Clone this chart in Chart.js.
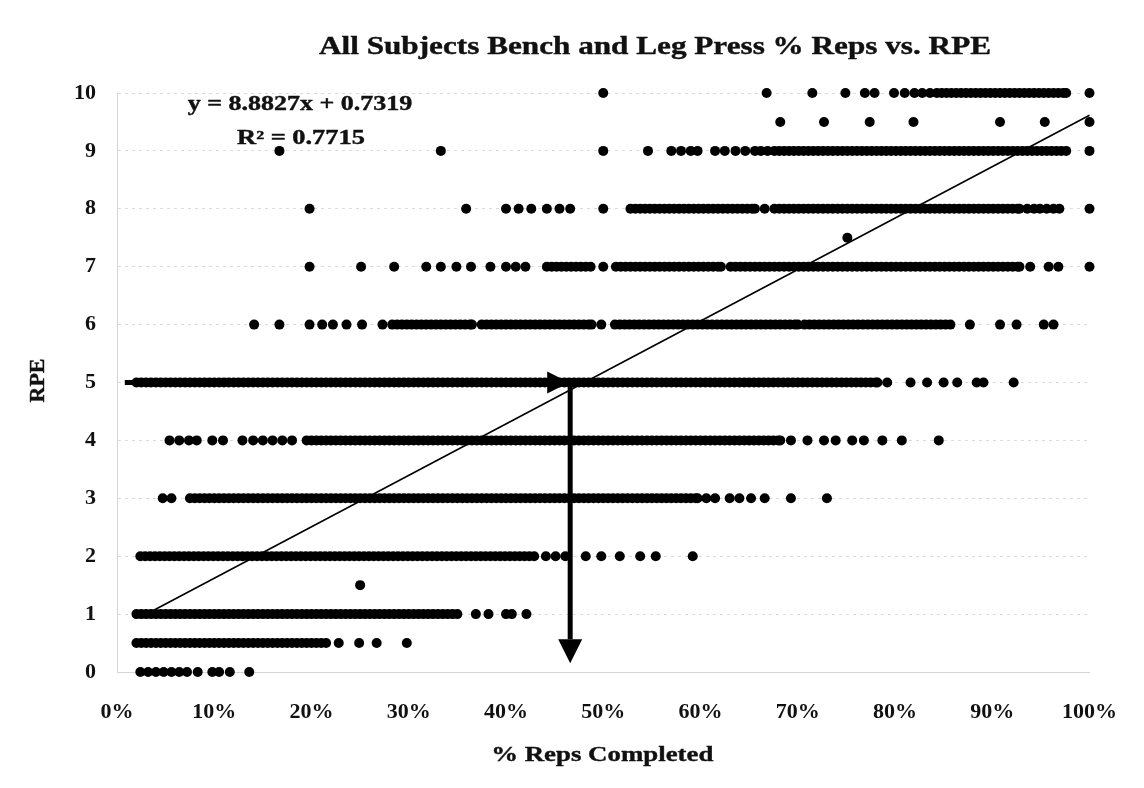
<!DOCTYPE html>
<html>
<head>
<meta charset="utf-8">
<script src="https://cdn.jsdelivr.net/npm/chart.js@4.4.1/dist/chart.umd.min.js"></script>
<style>
  html, body { margin: 0; padding: 0; background: #fff; }
  #chart { display: block; }
</style>
</head>
<body>
<canvas id="chart" width="1144" height="788"></canvas>
<script>
// % reps completed (x) for each RPE level (y)
// (the solid-looking runs are many overlapping points)
const rpe10  = [50.0, 66.8, 71.5, 74.9, 76.9, 77.9, 79.9, 81.0, 82.0, 82.8, 83.6,
  84.3, 84.8, 85.3, 85.8, 86.3, 86.8, 87.3, 87.8, 88.3, 88.8, 89.3, 89.8, 90.3, 90.8, 91.3, 91.8, 92.3, 92.8,
  93.3, 93.8, 94.3, 94.8, 95.3, 95.8, 96.3, 96.8, 97.3, 97.6, 100]
const rpe9_5 = [68.2, 72.7, 77.4, 81.9, 90.8, 95.4, 100]
const rpe9   = [16.7, 33.3, 50.0, 54.6, 57.0, 58.0, 59.0, 59.7, 61.5, 62.5, 63.6, 64.6, 65.6, 66.2, 66.9,
  67.6, 68.1, 68.6, 69.1, 69.6, 70.1, 70.6, 71.1, 71.6, 72.1, 72.6, 73.1, 73.6, 74.1, 74.6, 75.1, 75.6, 76.1,
  76.6, 77.1, 77.6, 78.1, 78.6, 79.1, 79.6, 80.1, 80.6, 81.1, 81.6, 82.1, 82.6, 83.1, 83.6, 84.1, 84.6, 85.1,
  85.6, 86.1, 86.6, 87.1, 87.6, 88.1, 88.6, 89.1, 89.6, 90.1, 90.6, 91.1, 91.6, 92.1, 92.6, 93.1, 93.6, 94.1,
  94.6, 95.1, 95.6, 96.1, 96.6, 97.1, 97.6, 100]
const rpe8   = [19.8, 35.9, 40.0, 41.3, 42.6, 44.2, 45.5, 46.6, 50.0,
  52.8, 53.3, 53.8, 54.3, 54.8, 55.3, 55.8, 56.3, 56.8, 57.3, 57.8, 58.3, 58.8, 59.3, 59.8, 60.3, 60.8, 61.3,
  61.8, 62.3, 62.8, 63.3, 63.8, 64.3, 64.8, 65.3, 65.6, 66.6,
  67.6, 68.1, 68.6, 69.1, 69.6, 70.1, 70.6, 71.1, 71.6, 72.1, 72.6, 73.1, 73.6, 74.1, 74.6, 75.1, 75.6, 76.1,
  76.6, 77.1, 77.6, 78.1, 78.6, 79.1, 79.6, 80.1, 80.6, 81.1, 81.6, 82.1, 82.6, 83.1, 83.6, 84.1, 84.6, 85.1,
  85.6, 86.1, 86.6, 87.1, 87.6, 88.1, 88.6, 89.1, 89.6, 90.1, 90.6, 91.1, 91.6, 92.1, 92.6, 92.8,
  93.6, 94.3, 94.9, 95.6, 96.3, 96.9, 100]
const rpe7_5 = [75.1]
const rpe7   = [19.8, 25.1, 28.5, 31.8, 33.3, 34.9, 36.4, 38.4, 40.0, 41.0, 42.0,
  44.2, 44.7, 45.2, 45.7, 46.2, 46.7, 47.2, 47.7, 48.2, 48.7, 50.0,
  51.3, 51.8, 52.3, 52.8, 53.3, 53.8, 54.3, 54.8, 55.3, 55.8, 56.3, 56.8, 57.3, 57.8, 58.3, 58.8, 59.3, 59.8,
  60.3, 60.8, 61.3, 61.8, 62.1,
  63.1, 63.6, 64.1, 64.6, 65.1, 65.6, 66.1, 66.6, 67.1, 67.6, 68.1, 68.6, 69.1, 69.6, 70.1, 70.6, 71.1, 71.6,
  72.1, 72.6, 73.1, 73.6, 74.1, 74.6, 75.1, 75.6, 76.1, 76.6, 77.1, 77.6, 78.1, 78.6, 79.1, 79.6, 80.1, 80.6,
  81.1, 81.6, 82.1, 82.6, 83.1, 83.6, 84.1, 84.6, 85.1, 85.6, 86.1, 86.6, 87.1, 87.6, 88.1, 88.6, 89.1, 89.6,
  90.1, 90.6, 91.1, 91.6, 92.1, 92.6, 92.8, 93.9, 95.8, 96.8, 100]
const rpe6   = [14.1, 16.7, 19.8, 21.1, 22.2, 23.6, 25.2, 27.3,
  28.3, 28.8, 29.3, 29.8, 30.3, 30.8, 31.3, 31.8, 32.3, 32.8, 33.3, 33.8, 34.3, 34.8, 35.3, 35.8, 36.3, 36.5,
  37.5, 38.0, 38.5, 39.0, 39.5, 40.0, 40.5, 41.0, 41.5, 42.0, 42.5, 43.0, 43.5, 44.0, 44.5, 45.0, 45.5, 46.0,
  46.5, 47.0, 47.5, 48.0, 48.5, 48.8, 49.8,
  51.2, 51.7, 52.2, 52.7, 53.2, 53.7, 54.2, 54.7, 55.2, 55.7, 56.2, 56.7, 57.2, 57.7, 58.2, 58.7, 59.2, 59.7,
  60.2, 60.7, 61.2, 61.7, 62.2, 62.7, 63.2, 63.7, 64.2, 64.7, 65.2, 65.7, 66.2, 66.7, 67.2, 67.7, 68.2, 68.7,
  69.2, 69.7, 70.0, 70.7, 71.2, 71.7, 72.2, 72.7, 73.2, 73.7, 74.2, 74.7, 75.2, 75.7, 76.2, 76.7, 77.2, 77.7,
  78.2, 78.7, 79.2, 79.7, 80.2, 80.7, 81.2, 81.7, 82.2, 82.7, 83.2, 83.7, 84.2, 84.7, 85.2, 85.7,
  87.7, 90.8, 92.5, 95.3, 96.3]
const rpe5   = [2.0, 2.5, 3.0, 3.5, 4.0, 4.5, 5.0, 5.5, 6.0, 6.5, 7.0, 7.5, 8.0, 8.5, 9.0, 9.5, 10.0, 10.5, 11.0, 11.5,
  12.0, 12.5, 13.0, 13.5, 14.0, 14.5, 15.0, 15.5, 16.0, 16.5, 17.0, 17.5, 18.0, 18.5, 19.0, 19.5, 20.0, 20.5, 21.0, 21.5,
  22.0, 22.5, 23.0, 23.5, 24.0, 24.5, 25.0, 25.5, 26.0, 26.5, 27.0, 27.5, 28.0, 28.5, 29.0, 29.5, 30.0, 30.5, 31.0, 31.5,
  32.0, 32.5, 33.0, 33.5, 34.0, 34.5, 35.0, 35.5, 36.0, 36.5, 37.0, 37.5, 38.0, 38.5, 39.0, 39.5, 40.0, 40.5, 41.0, 41.5,
  42.0, 42.5, 43.0, 43.5, 44.0, 44.5, 45.0, 45.5, 46.0, 46.5, 47.0, 47.5, 48.0, 48.5, 49.0, 49.5, 50.0, 50.5, 51.0, 51.5,
  52.0, 52.5, 53.0, 53.5, 54.0, 54.5, 55.0, 55.5, 56.0, 56.5, 57.0, 57.5, 58.0, 58.5, 59.0, 59.5, 60.0, 60.5, 61.0, 61.5,
  62.0, 62.5, 63.0, 63.5, 64.0, 64.5, 65.0, 65.5, 66.0, 66.5, 67.0, 67.5, 68.0, 68.5, 69.0, 69.5, 70.0, 70.5, 71.0, 71.5,
  72.0, 72.5, 73.0, 73.5, 74.0, 74.5, 75.0, 75.5, 76.0, 76.5, 77.0, 77.5, 78.0, 78.2,
  79.2, 81.6, 83.3, 85.0, 86.4, 88.4, 89.1, 92.2]
const rpe4   = [5.4, 6.4, 7.4, 8.2, 9.8, 10.9, 12.9, 14.0, 15.0, 16.0, 17.0, 18.0,
  19.5, 20.0, 20.5, 21.0, 21.5, 22.0, 22.5, 23.0, 23.5, 24.0, 24.5, 25.0, 25.5, 26.0, 26.5, 27.0, 27.5, 28.0,
  28.5, 29.0, 29.5, 30.0, 30.5, 31.0, 31.5, 32.0, 32.5, 33.0, 33.5, 34.0, 34.5, 35.0, 35.5, 36.0, 36.5, 37.0,
  37.5, 38.0, 38.5, 39.0, 39.5, 40.0, 40.5, 41.0, 41.5, 42.0, 42.5, 43.0, 43.5, 44.0, 44.5, 45.0, 45.5, 46.0,
  46.5, 47.0, 47.5, 48.0, 48.5, 49.0, 49.5, 50.0, 50.5, 51.0, 51.5, 52.0, 52.5, 53.0, 53.5, 54.0, 54.5, 55.0,
  55.5, 56.0, 56.5, 57.0, 57.5, 58.0, 58.5, 59.0, 59.5, 60.0, 60.5, 61.0, 61.5, 62.0, 62.5, 63.0, 63.5, 64.0,
  64.5, 65.0, 65.5, 66.0, 66.5, 67.0, 67.5, 68.0, 68.2,
  69.3, 71.0, 72.7, 73.9, 75.6, 76.8, 78.7, 80.7, 84.5]
const rpe3   = [4.7, 5.6,
  7.5, 8.0, 8.5, 9.0, 9.5, 10.0, 10.5, 11.0, 11.5, 12.0, 12.5, 13.0, 13.5, 14.0, 14.5, 15.0, 15.5, 16.0, 16.5,
  17.0, 17.5, 18.0, 18.5, 19.0, 19.5, 20.0, 20.5, 21.0, 21.5, 22.0, 22.5, 23.0, 23.5, 24.0, 24.5, 25.0, 25.5,
  26.0, 26.5, 27.0, 27.5, 28.0, 28.5, 29.0, 29.5, 30.0, 30.5, 31.0, 31.5, 32.0, 32.5, 33.0, 33.5, 34.0, 34.5,
  35.0, 35.5, 36.0, 36.5, 37.0, 37.5, 38.0, 38.5, 39.0, 39.5, 40.0, 40.5, 41.0, 41.5, 42.0, 42.5, 43.0, 43.5,
  44.0, 44.5, 45.0, 45.5, 46.0, 46.5, 47.0, 47.5, 48.0, 48.5, 49.0, 49.5, 50.0, 50.5, 51.0, 51.5, 52.0, 52.5,
  53.0, 53.5, 54.0, 54.5, 55.0, 55.5, 56.0, 56.5, 57.0, 57.5, 58.0, 58.5, 59.0, 59.5, 59.7,
  60.6, 61.5, 63.0, 64.0, 65.2, 66.6, 69.3, 73.0]
const rpe2   = [2.4, 2.9, 3.4, 3.9, 4.4, 4.9, 5.4, 5.9, 6.4, 6.9, 7.4, 7.9, 8.4, 8.9, 9.4, 9.9, 10.4, 10.9, 11.4,
  11.9, 12.4, 12.9, 13.4, 13.9, 14.4, 14.9, 15.4, 15.9, 16.4, 16.9, 17.4, 17.9, 18.4, 18.9, 19.4, 19.9, 20.4,
  20.9, 21.4, 21.9, 22.4, 22.9, 23.4, 23.9, 24.4, 24.9, 25.4, 25.9, 26.4, 26.9, 27.4, 27.9, 28.4, 28.9, 29.4,
  29.9, 30.4, 30.9, 31.4, 31.9, 32.4, 32.9, 33.4, 33.9, 34.4, 34.9, 35.4, 35.9, 36.4, 36.9, 37.4, 37.9, 38.4,
  38.9, 39.4, 39.9, 40.4, 40.9, 41.4, 41.9, 42.4, 42.9,
  44.1, 45.1, 46.1, 48.2, 49.8, 51.7, 53.8, 55.4, 59.2]
const rpe1_5 = [25.0]
const rpe1   = [2.0, 2.5, 3.0, 3.5, 4.0, 4.5, 5.0, 5.5, 6.0, 6.5, 7.0, 7.5, 8.0, 8.5, 9.0, 9.5, 10.0, 10.5, 11.0,
  11.5, 12.0, 12.5, 13.0, 13.5, 14.0, 14.5, 15.0, 15.5, 16.0, 16.5, 17.0, 17.5, 18.0, 18.5, 19.0, 19.5, 20.0,
  20.5, 21.0, 21.5, 22.0, 22.5, 23.0, 23.5, 24.0, 24.5, 25.0, 25.5, 26.0, 26.5, 27.0, 27.5, 28.0, 28.5, 29.0,
  29.5, 30.0, 30.5, 31.0, 31.5, 32.0, 32.5, 33.0, 33.5, 34.0, 34.5, 35.0,
  36.9, 38.2, 40.0, 40.6, 42.1]
const rpe0_5 = [2.0, 2.5, 3.0, 3.5, 4.0, 4.5, 5.0, 5.5, 6.0, 6.5, 7.0, 7.5, 8.0, 8.5, 9.0, 9.5, 10.0, 10.5, 11.0,
  11.5, 12.0, 12.5, 13.0, 13.5, 14.0, 14.5, 15.0, 15.5, 16.0, 16.5, 17.0, 17.5, 18.0, 18.5, 19.0, 19.5, 20.0,
  20.5, 21.0, 21.5, 22.8, 24.9, 26.7, 29.8]
const rpe0   = [2.4, 3.2, 4.0, 4.8, 5.6, 6.4, 7.2, 8.3, 9.8, 10.5, 11.6, 13.6]

const rpeLevels = [10, 9.5, 9, 8, 7.5, 7, 6, 5, 4, 3, 2, 1.5, 1, 0.5, 0]
const repsByLevel = [rpe10, rpe9_5, rpe9, rpe8, rpe7_5, rpe7, rpe6, rpe5, rpe4, rpe3, rpe2, rpe1_5, rpe1, rpe0_5, rpe0]

const xTicks = [0, 10, 20, 30, 40, 50, 60, 70, 80, 90, 100]
const yTicks = [0, 1, 2, 3, 4, 5, 6, 7, 8, 9, 10]

// linear trendline printed on the chart (x as a fraction)
const slope = 8.8827
const intercept = 0.7319
const rSquared = 0.7715
const trendX = [3, 100]

// the two hand-drawn arrows, in data units [x%, rpe]
const arrowH = [[0.8, 5], [46.5, 5]]
const arrowV = [[46.6, 4.95], [46.6, 0.15]]

const SERIF = '"Liberation Serif", "Times New Roman", serif'

points = []
repsByLevel.forEach((row, i) => {
  row.forEach(x => points.push({ x: x, y: rpeLevels[i] }))
})
trendPts = trendX.map(x => ({ x: x, y: slope * x / 100 + intercept }))

// scanned text looks wide, so stretch it sideways
function stretchText(ctx, text, x, y, size, sx, rot) {
  ctx.save()
  ctx.font = 'bold ' + size + 'px ' + SERIF
  ctx.fillStyle = '#111'
  ctx.strokeStyle = '#111'
  ctx.lineWidth = 0.4
  ctx.textAlign = 'center'
  ctx.textBaseline = 'middle'
  ctx.translate(x, y)
  if (rot) ctx.rotate(rot)
  ctx.scale(sx, 1)
  ctx.fillText(text, 0, 0)
  ctx.strokeText(text, 0, 0)
  ctx.restore()
}

function drawArrow(ctx, xs, ys, a, w, headLen, headW) {
  const x1 = xs.getPixelForValue(a[0][0]), y1 = ys.getPixelForValue(a[0][1])
  const x2 = xs.getPixelForValue(a[1][0]), y2 = ys.getPixelForValue(a[1][1])
  const ang = Math.atan2(y2 - y1, x2 - x1)
  const bx = x2 - Math.cos(ang) * headLen, by = y2 - Math.sin(ang) * headLen
  ctx.save()
  ctx.strokeStyle = '#000'
  ctx.fillStyle = '#000'
  ctx.lineWidth = w
  ctx.beginPath()
  ctx.moveTo(x1, y1)
  ctx.lineTo(bx, by)
  ctx.stroke()
  ctx.beginPath()
  ctx.moveTo(x2, y2)
  ctx.lineTo(bx - Math.sin(ang) * headW, by + Math.cos(ang) * headW)
  ctx.lineTo(bx + Math.sin(ang) * headW, by - Math.cos(ang) * headW)
  ctx.closePath()
  ctx.fill()
  ctx.restore()
}

const decorations = {
  id: 'decorations',
  afterDatasetsDraw(chart) {
    const ctx = chart.ctx
    const xs = chart.scales.x, ys = chart.scales.y
    const area = chart.chartArea
    drawArrow(ctx, xs, ys, arrowH, 5, 22, 11)
    drawArrow(ctx, xs, ys, arrowV, 5, 24, 12)
    stretchText(ctx, 'All Subjects Bench and Leg Press % Reps vs. RPE', 655, 47, 26, 1.2)
    stretchText(ctx, 'y = ' + slope + 'x + ' + intercept, 300, 105, 20, 1.3)
    stretchText(ctx, 'R\u00B2 = ' + rSquared, 301, 139, 20, 1.32)
    stretchText(ctx, '% Reps Completed', (area.left + area.right) / 2 - 1, 755, 22, 1.22)
    stretchText(ctx, 'RPE', 38, (area.top + area.bottom) / 2 - 2, 22, 1.0, -Math.PI / 2)
  }
}

const ctx = document.getElementById('chart')
new Chart(ctx, {
  type: 'scatter',
  data: {
    datasets: [
      {
        label: 'RPE',
        data: points,
        backgroundColor: '#000',
        borderWidth: 0,
        pointRadius: 5,
        pointHoverRadius: 5,
        clip: false,
        order: 2
      },
      {
        label: 'Linear',
        type: 'line',
        data: trendPts,
        borderColor: '#000',
        borderWidth: 1.6,
        pointRadius: 0,
        fill: false,
        clip: false,
        order: 1
      }
    ]
  },
  options: {
    responsive: false,
    animation: false,
    events: [],
    layout: { padding: { top: 93, right: 51, bottom: 0, left: 0 } },
    plugins: {
      legend: { display: false },
      tooltip: { enabled: false },
      title: { display: false }
    },
    scales: {
      x: {
        type: 'linear',
        min: 0,
        max: 100,
        afterFit: (s) => { s.height = 116 },
        afterBuildTicks: (s) => { s.ticks = xTicks.map(v => ({ value: v })) },
        grid: { display: false, drawTicks: false },
        border: { display: true, color: '#d6d6d6', width: 1 },
        ticks: {
          padding: 27,
          color: '#111',
          font: { family: SERIF, size: 22, weight: 'bold' },
          callback: (v) => v + '%'
        }
      },
      y: {
        type: 'linear',
        min: 0,
        max: 10,
        afterFit: (s) => { s.width = 117 },
        afterBuildTicks: (s) => { s.ticks = yTicks.map(v => ({ value: v })) },
        grid: { color: 'rgba(0,0,0,0.14)', drawTicks: false, lineWidth: 1 },
        border: { display: true, color: '#d6d6d6', dash: [3, 4] },
        ticks: {
          padding: 21,
          color: '#111',
          font: { family: SERIF, size: 22, weight: 'bold' }
        }
      }
    }
  },
  plugins: [decorations]
})
</script>
</body>
</html>
